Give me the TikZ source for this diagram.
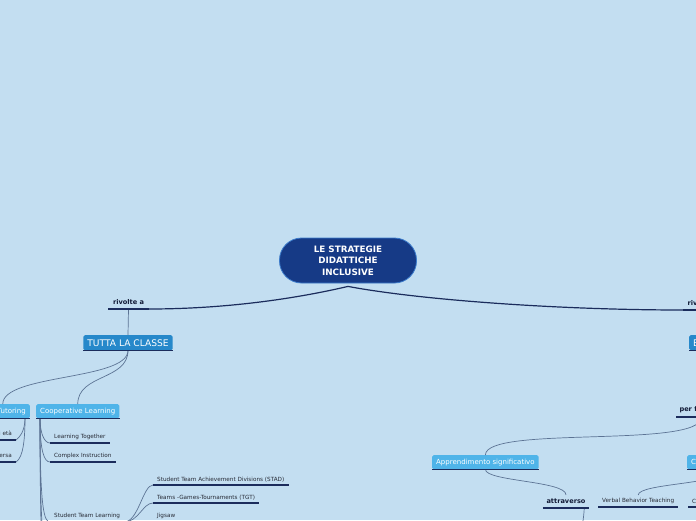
\documentclass[tikz,border=0pt]{standalone}
\usepackage{fontspec}
\setmainfont{DejaVu Sans}
\usetikzlibrary{positioning,calc}
\definecolor{mapbg}{HTML}{C3DEF1}
\definecolor{rootblue}{HTML}{163A86}
\definecolor{rootrim}{HTML}{3B7BCB}
\definecolor{mainfill}{HTML}{2688CA}
\definecolor{subfill}{HTML}{4FB4E9}
\definecolor{navyline}{HTML}{1B2C5C}
\definecolor{twiggray}{HTML}{5C7394}
\definecolor{leaftext}{HTML}{262A35}
\definecolor{linktext}{HTML}{111A36}
\tikzset{
  rootidea/.style={fill=rootblue, draw=rootrim, line width=0.8pt, rounded corners=22pt,
    minimum width=137pt, minimum height=45pt, inner sep=2pt, align=center,
    font=\fontsize{8.8}{11.5}\selectfont\bfseries, text=white},
  mainbranch/.style={fill=mainfill, rounded corners=1.5pt, minimum height=15pt,
    inner xsep=4pt, inner ysep=0pt, font=\fontsize{9.1}{10}\selectfont, text=white},
  subbranch/.style={fill=subfill, rounded corners=1.5pt, minimum height=14pt,
    inner xsep=4pt, inner ysep=0pt, font=\fontsize{7}{8}\selectfont, text=white},
  % bold linking words and small leaves, both sit on an underline
  linker/.style={anchor=south, inner ysep=4pt, font=\fontsize{6.6}{8}\selectfont\bfseries,
    text=linktext},
  leaf/.style={anchor=south west, inner xsep=4pt, inner ysep=3pt,
    font=\fontsize{5.7}{7}\selectfont, text=leaftext},
  uline/.style={draw=navyline, line width=1.6pt},
  trunk/.style={draw=navyline, line width=1.2pt},
  twig/.style={draw=twiggray, line width=0.7pt},
}
\begin{document}
\begin{tikzpicture}[x=1pt,y=-1pt]
  \useasboundingbox (0,0) rectangle (696,520);
  \fill[mapbg] (0,0) rectangle (696,520);

  \node[rootidea] (root) at (348,260.5) {LE STRATEGIE\\DIDATTICHE\\ INCLUSIVE};
  \node[linker, minimum width=40pt] (rivL) at (128.5,309) {rivolte a};
  \node[linker, minimum width=40pt] (rivR) at (703,310) {rivolte a};

  % left side
  \node[mainbranch, anchor=north] (tutta) at (128,335) {TUTTA LA CLASSE};
  \node[subbranch, anchor=north east] (tutor) at (30,404) {Peer Tutoring};
  \node[subbranch, anchor=north west] (coop) at (36,404) {Cooperative Learning};
  \node[leaf, anchor=south east] (pari) at (16,440) {Tutoring tra pari età};
  \node[leaf, anchor=south east] (diversa) at (16,462) {Tutoring di età diversa};
  \node[leaf] (together) at (50,443) {Learning Together};
  \node[leaf] (complex) at (50,462) {Complex Instruction};
  \node[leaf] (stl) at (50,522) {Student Team Learning};
  \node[leaf] (stad) at (153,485) {Student Team Achievement Divisions (STAD)};
  \node[leaf] (tgt) at (153,503) {Teams -Games-Tournaments (TGT)};
  \node[leaf] (jigsaw) at (153,522) {Jigsaw};
  \coordinate (coopMore) at (50,560);
  \coordinate (coopLast) at (50,600);

  % right side
  \node[mainbranch, anchor=north west] (bes) at (689,335) {BES};
  \node[linker, anchor=south west] (perf) at (676,417) {per favorire};
  \node[subbranch, anchor=north west] (appr) at (432,455) {Apprendimento significativo};
  \node[subbranch, anchor=north west] (comport) at (687,455) {Comportamentismo};
  \node[linker, minimum width=46pt] (attr) at (566,508) {attraverso};
  \node[leaf] (vbt) at (598,507) {Verbal Behavior Teaching};
  \node[leaf] (caa) at (688,507) {Comunicazione Aumentativa Alternativa};
  \coordinate (attrMore) at (578,570);

  \draw[trunk] ([yshift=-3pt]root.south) .. controls (290,300) and (220,309) .. (rivL.south east);
  \draw[trunk] ([yshift=-3pt]root.south) .. controls (420,300) and (560,310) .. (rivR.south west);
  \draw[twig] (rivL.south) -- (tutta.north);
  \draw[twig] (rivR.south) -- (bes.north);
  \draw[twig] (tutta.south) .. controls +(0,30) and +(0,-30) .. (tutor.north);
  \draw[twig] (tutta.south) .. controls +(0,30) and +(0,-30) .. (coop.north);
  \draw[twig] ([xshift=-5pt]tutor.south east) .. controls +(0,12) and +(4,-3) .. (pari.south east);
  \draw[twig] ([xshift=-5pt]tutor.south east) .. controls +(0,34) and +(4,-3) .. (diversa.south east);
  \foreach \n/\k in {together/14,complex/32,stl/90,coopMore/120,coopLast/150}
    \draw[twig] ([xshift=4pt]coop.south west) .. controls +(0,\k) and +(-6,0) .. (\n.south west);
  \foreach \n in {stad,tgt,jigsaw}
    \draw[twig] (stl.south east) .. controls +(14,0) and +(-10,0) .. (\n.south west);
  \draw[twig] (bes.south) -- (perf.north);
  \draw[twig] (perf.south) .. controls +(0,32) and +(0,-30) .. (appr.north);
  \draw[twig] (appr.south) .. controls +(0,12) and +(0,-14) .. (attr.north);
  \draw[twig] ([xshift=-5pt]attr.south east) .. controls +(0,10) and +(0,-20) .. (attrMore);
  \draw[twig] (comport.south) .. controls +(0,15) and +(0,-12) .. (vbt.north);
  \draw[twig] (comport.south) .. controls +(0,15) and +(0,-12) .. (caa.north);

  \foreach \n in {rivL,rivR,tutta,bes,tutor,coop,pari,diversa,together,complex,stl,
      stad,tgt,jigsaw,perf,appr,comport,attr,vbt,caa}
    \draw[uline] (\n.south west) -- (\n.south east);
\end{tikzpicture}
\end{document}
